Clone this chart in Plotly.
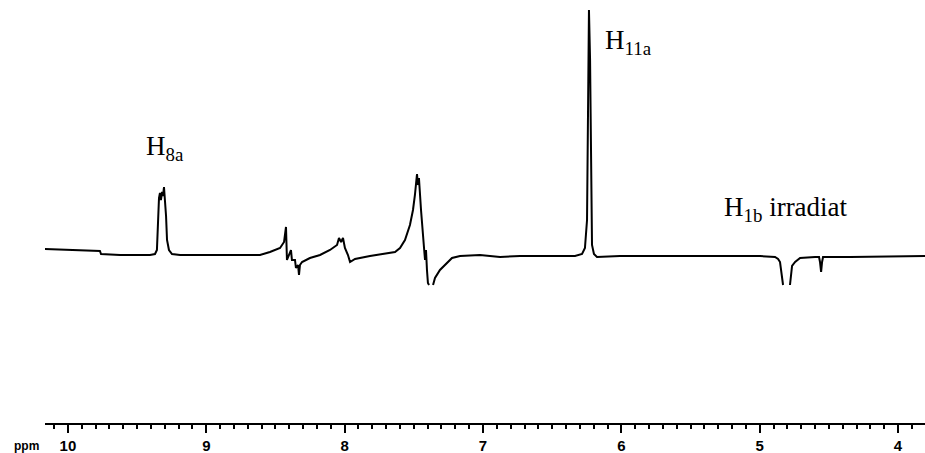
import plotly.graph_objects as go

# 1H NMR trace (chemical shift in ppm, intensity in arbitrary units, baseline = 0).
# None entries break the pen trace where the recorder jumped through a sharp line.
shift_ppm = [
    10.166, 9.986, 9.769, 9.761, 9.624, 9.407, 9.371,
    9.357, 9.349, 9.342, 9.335, 9.328, 9.320, 9.313, 9.306, 9.299, 9.291, 9.284, 9.270, 9.248, 9.190,
    8.901, 8.612, 8.540, 8.467, 8.438, 8.424, 8.417, 8.402, 8.388, 8.381, 8.359, 8.352, 8.337, 8.330,
    8.323, 8.308, 8.251, 8.178, 8.106, 8.055, 8.041, 8.026, 8.012, 7.998, 7.976, 7.961, 7.925,
    7.817, 7.708, 7.636, 7.600, 7.564, 7.528, 7.506, 7.492, 7.484, 7.477, 7.470, 7.463, 7.448,
    7.434, 7.425, 7.419, 7.412, 7.405, 7.398, 7.390, None, 7.361, 7.347, 7.311, 7.275, 7.224,
    7.166, 7.022, 6.877, 6.732, 6.516, 6.335, 6.284, 6.263, 6.248, 6.241, 6.234, 6.226, 6.219,
    6.212, 6.198, 6.176, 6.010, 5.431, 4.998, 4.889, 4.867, 4.853, 4.831, None,
    4.781, 4.766, 4.744, 4.708, 4.600, 4.571, 4.564, 4.556, 4.549, 4.542, 4.347, 3.805,
]
intensity = [
    7, 6, 5, 2, 1, 1, 2,
    6, 41, 58, 63, 56, 64, 60, 69, 56, 40, 16, 6, 2, 1,
    1, 1, 4, 8, 14, 29, -4, 1, 6, -4, -4, -12, -9, -19,
    -9, -6, -2, 1, 6, 11, 18, 14, 18, 8, 1, -6, -3,
    0, 2, 4, 8, 16, 31, 46, 61, 76, 82, 71, 78, 46,
    16, 6, -4, 6, -14, -27, -29, None, -29, -22, -14, -9, -2,
    0, 1, -1, 0, 0, 0, 2, 8, 36, 196, 246, 196, 56,
    11, 2, -1, 0, 0, 0, -1, -3, -6, -29, None,
    -29, -10, -6, -2, -1, -1, -6, -16, -6, -1, -1, 0,
]

# Axis labelling
major_ticks = [10, 9, 8, 7, 6, 5, 4]
major_labels = ["10", "9", "8", "7", "6", "5", "4"]

# Signal labels: (shift, intensity, text)
peak_labels = [
    (9.450, 108, "H<sub>8a</sub>"),
    (6.135, 214, "H<sub>11a</sub>"),
    (5.272, 47, "H<sub>1b</sub> irradiat"),
]

fig = go.Figure()
fig.add_trace(go.Scatter(
    x=shift_ppm, y=intensity, mode="lines",
    line=dict(color="black", width=2),
    connectgaps=False, hoverinfo="skip", showlegend=False,
))

for x, y, text in peak_labels:
    fig.add_annotation(
        x=x, y=y, text=text, showarrow=False,
        xanchor="left", yanchor="middle",
        font=dict(family="Liberation Serif", size=27, color="black"),
    )

fig.add_annotation(
    xref="paper", yref="paper", x=26 / 925, y=-0.054, text="ppm",
    showarrow=False, xanchor="center", yanchor="middle",
    font=dict(family="Liberation Sans", size=12, color="black", weight="bold"),
)

fig.update_xaxes(
    domain=[45 / 925, 1],
    range=[10.166, 3.805],
    showgrid=False, zeroline=False,
    showline=True, linecolor="black", linewidth=2,
    ticks="outside", ticklen=8, tickwidth=2, tickcolor="black",
    tickmode="array", tickvals=major_ticks, ticktext=major_labels,
    tickfont=dict(family="Liberation Sans", size=15, color="black", weight="bold"),
    minor=dict(dtick=0.1, tick0=0, ticks="outside", ticklen=4, tickwidth=1.5,
               tickcolor="black", showgrid=False),
)
fig.update_yaxes(range=[-167, 256], visible=False, showgrid=False, zeroline=False)

fig.update_layout(
    width=925, height=453,
    margin=dict(l=0, r=0, t=0, b=30),
    paper_bgcolor="white", plot_bgcolor="white",
)

fig.write_html("out.html")
